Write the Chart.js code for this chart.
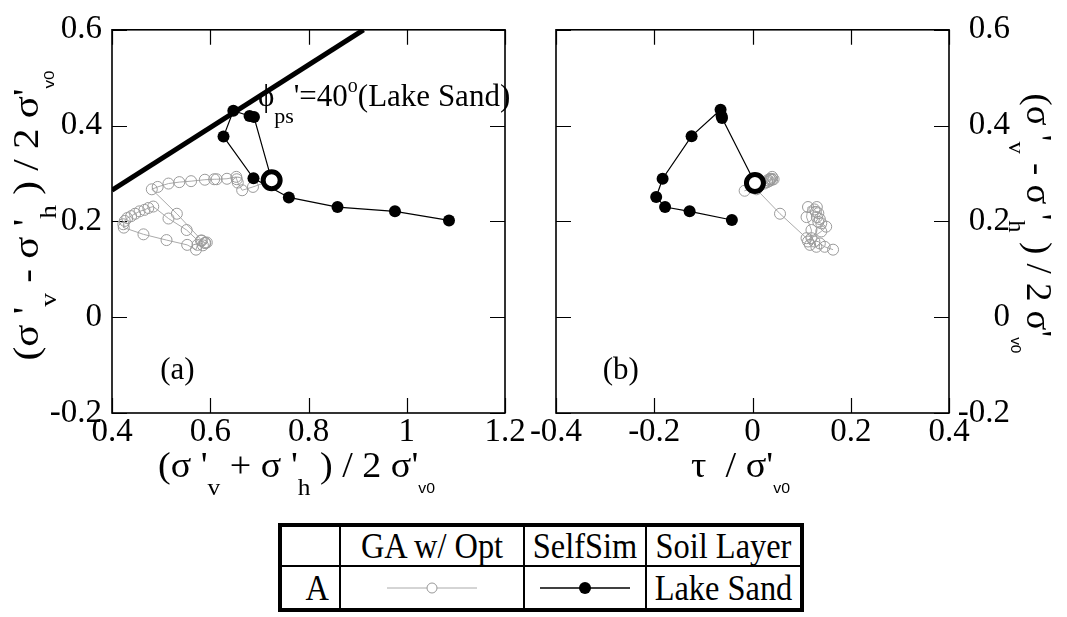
<!DOCTYPE html>
<html>
<head>
<meta charset="utf-8">
<script src="https://cdn.jsdelivr.net/npm/chart.js@4.4.0/dist/chart.umd.min.js"></script>
<style>
html,body{margin:0;padding:0;background:#fff;}
#wrap{position:relative;width:1067px;height:617px;overflow:hidden;background:#fff;}
#ca{position:absolute;left:0;top:0;}
#cb{position:absolute;left:520px;top:0;}
#leg{position:absolute;left:278px;top:523px;width:526px;height:89px;box-sizing:border-box;border:4px solid #000;
  display:grid;grid-template-columns:59px 184px 122px 153px;grid-template-rows:40px 41px;
  font-family:'Liberation Serif','DejaVu Serif',serif;font-size:36px;color:#000;}
#leg div{box-sizing:border-box;display:flex;align-items:center;justify-content:center;white-space:nowrap;overflow:visible;}
#leg .br{border-right:2px solid #000;}
#leg .bb{border-bottom:2px solid #000;}
#leg .rt{justify-content:flex-end;padding-right:10px;}
#leg span{display:inline-block;transform:scaleX(0.9);}
#leg .rt span{transform-origin:right center;}
</style>
</head>
<body>
<div id="wrap">
<canvas id="ca" width="530" height="510"></canvas>
<canvas id="cb" width="547" height="510"></canvas>
<div id="leg">
  <div class="br bb"></div>
  <div class="br bb"><span>GA w/ Opt</span></div>
  <div class="br bb"><span>SelfSim</span></div>
  <div class="bb"><span>Soil Layer</span></div>
  <div class="br rt"><span>A</span></div>
  <div class="br"><svg width="90" height="14"><line x1="0" y1="7" x2="90" y2="7" stroke="#aaa" stroke-width="1"/><circle cx="45" cy="7" r="5" fill="#fff" stroke="#999" stroke-width="1"/></svg></div>
  <div class="br"><svg width="90" height="14"><line x1="0" y1="7" x2="90" y2="7" stroke="#000" stroke-width="1.3"/><circle cx="45" cy="7" r="6" fill="#000"/></svg></div>
  <div><span>Lake Sand</span></div>
</div>
</div>
<script>
// ---------- tick values / labels ----------
const xTicksA = [0.4, 0.6, 0.8, 1, 1.2];
const xTickLabelsA = ['0.4', '0.6', '0.8', '1', '1.2'];
const xTicksB = [-0.4, -0.2, 0, 0.2, 0.4];
const xTickLabelsB = ['-0.4', '-0.2', '0', '0.2', '0.4'];
const yTicks = [-0.2, 0, 0.2, 0.4, 0.6];
const yTickLabels = ['-0.2', '0', '0.2', '0.4', '0.6'];

// ---------- panel (a): p' = (s'v+s'h)/2s'v0 , q = (s'v-s'h)/2s'v0 ----------
const startP = [0.725];
const startQa = [0.286];
const selfP = [0.725, 0.689, 0.680, 0.647, 0.627, 0.688, 0.760, 0.859, 0.976, 1.086];
const selfQa = [0.286, 0.418, 0.420, 0.431, 0.377, 0.290, 0.250, 0.230, 0.221, 0.202];
const gaP = [0.725, 0.687, 0.665, 0.656, 0.654, 0.653, 0.634, 0.613, 0.608, 0.589,
             0.561, 0.537, 0.515, 0.493, 0.481, 0.532, 0.583, 0.590, 0.585, 0.552,
             0.515, 0.484, 0.474, 0.466, 0.456, 0.447, 0.439, 0.431, 0.426, 0.423,
             0.424, 0.464, 0.511, 0.553, 0.571, 0.574, 0.581, 0.589, 0.593];
const gaQa = [0.286, 0.272, 0.265, 0.281, 0.288, 0.293, 0.289, 0.288, 0.288, 0.287,
              0.284, 0.282, 0.279, 0.272, 0.267, 0.216, 0.160, 0.155, 0.150, 0.182,
              0.206, 0.231, 0.228, 0.224, 0.221, 0.216, 0.211, 0.207, 0.201, 0.194,
              0.187, 0.173, 0.161, 0.151, 0.141, 0.151, 0.160, 0.155, 0.156];
const failP = [0.4, 0.912];
const failQ = [0.265, 0.6];

// ---------- panel (b): tau / s'v0 , q ----------
const startTau = [0.005];
const startQb = [0.280];
const selfTau = [0.005, -0.062, -0.063, -0.065, -0.124, -0.183, -0.196, -0.178, -0.128, -0.042];
const selfQb = [0.280, 0.416, 0.420, 0.433, 0.378, 0.289, 0.251, 0.230, 0.221, 0.203];
const gaTau = [0.005, 0.002, -0.016, 0.030, 0.036, 0.040, 0.038, 0.043, 0.035, 0.040,
               0.034, 0.031, 0.024, 0.012, 0.008, 0.056, 0.110, 0.113, 0.117, 0.120,
               0.110, 0.113, 0.131, 0.126, 0.129, 0.134, 0.131, 0.137, 0.134, 0.140,
               0.150, 0.140, 0.120, 0.126, 0.130, 0.137, 0.147, 0.164];
const gaQb = [0.280, 0.272, 0.264, 0.282, 0.288, 0.293, 0.289, 0.288, 0.288, 0.287,
              0.284, 0.286, 0.279, 0.272, 0.267, 0.216, 0.165, 0.158, 0.151, 0.182,
              0.209, 0.230, 0.230, 0.225, 0.220, 0.217, 0.209, 0.205, 0.199, 0.196,
              0.189, 0.179, 0.165, 0.158, 0.147, 0.154, 0.147, 0.141];

// ---------- helpers ----------
const SERIF = "'Liberation Serif','DejaVu Serif',serif";
const SANS = "'Liberation Sans','DejaVu Sans',sans-serif";
Chart.defaults.font.family = SERIF;
Chart.defaults.color = '#000';

function pts(xs, ys) { return xs.map((x, i) => ({ x: x, y: ys[i] })); }

function datasets(sx, sy, selfX, selfY, gaX, gaY, extra) {
  const ds = [
    { label: 'start', data: pts(sx, sy), showLine: false, pointRadius: 8.5, pointBorderWidth: 5,
      pointBorderColor: '#000', pointBackgroundColor: '#fff', order: 0 },
    { label: 'SelfSim', data: pts(selfX, selfY), showLine: true, borderColor: '#000', borderWidth: 1.2,
      pointRadius: 6, pointBackgroundColor: '#000', pointBorderColor: '#000', pointBorderWidth: 0, order: 1 },
    { label: 'GA w/ Opt', data: pts(gaX, gaY), showLine: true, borderColor: '#aaa', borderWidth: 1,
      pointRadius: 5.5, pointBorderColor: '#9a9a9a', pointBackgroundColor: 'rgba(255,255,255,0)',
      pointBorderWidth: 1, order: 3 }
  ];
  if (extra) ds.push(extra);
  return ds;
}

function xScale(ticks, labels, min, max) {
  return {
    type: 'linear', position: 'bottom', min: min, max: max,
    grid: { display: false, drawTicks: false }, border: { display: false },
    afterBuildTicks: s => { s.ticks = ticks.map(v => ({ value: v })); },
    afterFit: s => { s.height = 97; },
    ticks: { font: { size: 33, family: SERIF }, color: '#000', padding: 0, maxRotation: 0, minRotation: 0,
      autoSkip: false, callback: (v, i) => labels[i] }
  };
}
function yScale(pos, width, pad, cross) {
  return {
    type: 'linear', position: pos, min: -0.2, max: 0.6,
    grid: { display: false, drawTicks: false }, border: { display: false },
    afterBuildTicks: s => { s.ticks = yTicks.map(v => ({ value: v })); },
    afterFit: s => { s.width = width; },
    ticks: { font: { size: 33, family: SERIF }, color: '#000', padding: pad, crossAlign: cross,
      autoSkip: false, callback: (v, i) => yTickLabels[i] }
  };
}

const framePlugin = {
  id: 'frame',
  beforeDatasetsDraw(chart) {
    const ctx = chart.ctx, a = chart.chartArea;
    const xs = chart.scales.x, ys = chart.scales.y;
    const tl = 15;
    ctx.save();
    ctx.strokeStyle = '#000';
    ctx.lineWidth = 1.2;
    ctx.beginPath();
    xs.ticks.forEach(t => {
      const px = Math.round(xs.getPixelForValue(t.value)) + 0.5;
      ctx.moveTo(px, a.bottom); ctx.lineTo(px, a.bottom - tl);
      ctx.moveTo(px, a.top); ctx.lineTo(px, a.top + tl);
    });
    ys.ticks.forEach(t => {
      const py = Math.round(ys.getPixelForValue(t.value)) + 0.5;
      ctx.moveTo(a.left, py); ctx.lineTo(a.left + tl, py);
      ctx.moveTo(a.right, py); ctx.lineTo(a.right - tl, py);
    });
    ctx.stroke();
    ctx.lineWidth = 1.6;
    ctx.strokeRect(a.left, a.top, a.right - a.left, a.bottom - a.top);
    ctx.restore();
  }
};

function drawRich(ctx, segs, x, y, angle, target) {
  ctx.save();
  ctx.translate(x, y);
  ctx.rotate(angle);
  let total = 0;
  segs.forEach(s => { ctx.font = s.f; s.w = ctx.measureText(s.t).width; total += s.w; });
  const sx = target ? target / total : 1;
  ctx.scale(sx, 1);
  ctx.fillStyle = '#000';
  ctx.textBaseline = 'alphabetic';
  ctx.textAlign = 'left';
  let cx = -total / 2;
  segs.forEach(s => { ctx.font = s.f; ctx.fillText(s.t, cx, s.dy || 0); cx += s.w; });
  ctx.restore();
}
function drawPlain(ctx, segs, x, y) {
  ctx.save();
  ctx.fillStyle = '#000';
  ctx.textBaseline = 'alphabetic';
  ctx.textAlign = 'left';
  let cx = x;
  segs.forEach(s => { ctx.font = s.f; ctx.fillText(s.t, cx, y + (s.dy || 0)); cx += ctx.measureText(s.t).width; });
  ctx.restore();
}

const M = "36px " + SERIF, S = "24px " + SERIF, S0 = "15px " + SANS;
const qTitle = [
  { t: "(\u03C3 '", f: M }, { t: "v", f: S, dy: 18 }, { t: " - \u03C3 '", f: M }, { t: "h", f: S, dy: 18 },
  { t: " ) / 2 \u03C3'", f: M }, { t: "v0", f: S0, dy: 16 }
];
const pTitle = [
  { t: "(\u03C3 '", f: M }, { t: "v", f: S, dy: 18 }, { t: " + \u03C3 '", f: M }, { t: "h", f: S, dy: 18 },
  { t: " ) / 2 \u03C3'", f: M }, { t: "v0", f: S0, dy: 16 }
];
const tTitle = [ { t: "\u03C4  / \u03C3'", f: M }, { t: "v0", f: S0, dy: 16 } ];

const annA = {
  id: 'annA',
  afterDraw(chart) {
    const ctx = chart.ctx, a = chart.chartArea, xs = chart.scales.x, ys = chart.scales.y;
    drawRich(ctx, qTitle, a.left - 74, (a.top + a.bottom) / 2 - 6, -Math.PI / 2, 290);
    drawRich(ctx, pTitle, (a.left + a.right) / 2 - 12, a.bottom + 64, 0, 277);
    const F = "31px " + SERIF;
    drawPlain(ctx, [
      { t: "\u03D5", f: F }, { t: "ps", f: "22px " + SERIF, dy: 17 }, { t: "'=40", f: F },
      { t: "o", f: "20px " + SERIF, dy: -14 }, { t: "(Lake Sand)", f: F }
    ], xs.getPixelForValue(0.697), ys.getPixelForValue(0.441));
    drawPlain(ctx, [{ t: "(a)", f: F }], xs.getPixelForValue(0.498), ys.getPixelForValue(-0.129));
  }
};
const annB = {
  id: 'annB',
  afterDraw(chart) {
    const ctx = chart.ctx, a = chart.chartArea, xs = chart.scales.x, ys = chart.scales.y;
    drawRich(ctx, qTitle, a.right + 78, (a.top + a.bottom) / 2 + 2, Math.PI / 2, 260);
    drawRich(ctx, tTitle, (a.left + a.right) / 2 - 12, a.bottom + 64, 0, 99);
    drawPlain(ctx, [{ t: "(b)", f: "31px " + SERIF }], xs.getPixelForValue(-0.305), ys.getPixelForValue(-0.129));
  }
};

const common = {
  responsive: false, animation: false, devicePixelRatio: 1, events: [],
  plugins: { legend: { display: false }, tooltip: { enabled: false } }
};

new Chart(document.getElementById('ca'), {
  type: 'scatter',
  data: {
    datasets: datasets(startP, startQa, selfP, selfQa, gaP, gaQa,
      { label: 'failure line', data: pts(failP, failQ), showLine: true, borderColor: '#000', borderWidth: 5,
        pointRadius: 0, order: 2 })
  },
  options: Object.assign({}, common, {
    layout: { padding: { top: 23, right: 25, left: 0, bottom: 0 } },
    scales: { x: xScale(xTicksA, xTickLabelsA, 0.4, 1.2), y: yScale('left', 112, 10, 'near') }
  }),
  plugins: [framePlugin, annA]
});

new Chart(document.getElementById('cb'), {
  type: 'scatter',
  data: { datasets: datasets(startTau, startQb, selfTau, selfQb, gaTau, gaQb) },
  options: Object.assign({}, common, {
    layout: { padding: { top: 23, right: 57, left: 36, bottom: 0 } },
    scales: { x: xScale(xTicksB, xTickLabelsB, -0.4, 0.4), y: yScale('right', 61, 10, 'far') }
  }),
  plugins: [framePlugin, annB]
});
</script>
</body>
</html>
